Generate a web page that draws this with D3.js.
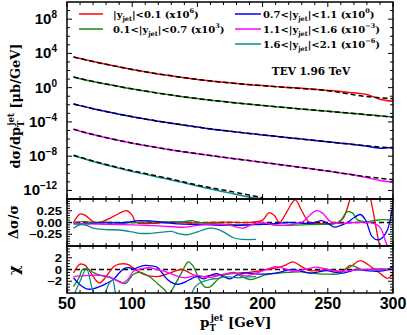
<!DOCTYPE html>
<html lang="en">
<head>
<meta charset="UTF-8"/>
<title>Inclusive jet cross section</title>
<script src="https://d3js.org/d3.v7.min.js"></script>
<style>
body { margin: 0; background: #fff; }
</style>
</head>
<body>
<script>
var w = 407;
var h = 335;

// pT grid (GeV) for the measured spectra, values are log10 of dsigma/dpT (scaled)
var ptGrid = [55,60,70,80,90,100,110,120,130,140,150,160,170,180,190,200,210,220,230,240,250,260,270,280,290,300];
var specRed   = [3.58,3.40,3.05,2.72,2.42,2.12,1.85,1.60,1.38,1.16,0.96,0.78,0.62,0.48,0.35,0.24,0.12,0.02,-0.08,-0.20,-0.32,-0.45,-0.60,-0.80,-1.35,-1.60];
var specGreen = [1.24,1.05,0.72,0.42,0.13,-0.15,-0.40,-0.64,-0.87,-1.08,-1.28,-1.46,-1.63,-1.79,-1.94,-2.08,-2.22,-2.36,-2.50,-2.63,-2.76,-2.89,-3.02,-3.15,-3.28,-3.42];
var specBlue  = [-1.91,-2.10,-2.46,-2.79,-3.10,-3.39,-3.66,-3.92,-4.15,-4.38,-4.60,-4.82,-5.00,-5.18,-5.35,-5.52,-5.68,-5.84,-6.00,-6.16,-6.32,-6.48,-6.64,-6.85,-7.07,-6.95];
var specMag   = [-4.86,-5.08,-5.47,-5.84,-6.18,-6.48,-6.76,-7.02,-7.27,-7.50,-7.72,-7.93,-8.13,-8.33,-8.52,-8.72,-8.92,-9.12,-9.32,-9.52,-9.74,-9.96,-10.20,-10.50,-10.85,-11.05];
var specTeal  = [-7.94,-8.15,-8.62,-9.03,-9.42,-9.78,-10.12,-10.45,-10.77,-11.12,-11.48,-11.82,-12.15,-12.47,-12.80,-12.95];

// theory (dashed), coarser grid
var thGrid = [55,70,90,110,130,150,175,200,225,250,275,300];
var thRed   = [3.58,3.05,2.42,1.85,1.38,0.96,0.55,0.24,-0.05,-0.35,-0.95,-1.30];
var thGreen = [1.24,0.72,0.13,-0.40,-0.87,-1.28,-1.71,-2.08,-2.43,-2.76,-3.09,-3.44];
var thBlue  = [-1.90,-2.46,-3.10,-3.66,-4.15,-4.60,-5.09,-5.52,-5.92,-6.32,-6.72,-7.05];
var thMag   = [-4.86,-5.47,-6.17,-6.75,-7.26,-7.71,-8.23,-8.72,-9.22,-9.74,-10.30,-10.75];
var thTeal  = [-7.89,-8.56,-9.35,-10.02,-10.67,-11.38,-12.10,-12.85];

// (data - theory)/theory, [pT, value]
var ratioRed = [[55,0],[60,0.18],[64,0.15],[70,0.02],[75,0],[85,0.12],[96,0.25],[100,0.15],[103,0],[115,-0.02],[130,0.01],[150,-0.01],[170,0.01],[190,0],[200,0.05],[205,0.21],[209,0.15],[213,0],[218,0.2],[225,0.48],[230,0.25],[236,0],[245,-0.02],[258,0],[262,0.1],[266,0.4],[270,0.8],[276,1.0],[281,0.7],[285,0.2],[289,-0.4],[293,-0.8],[300,-0.9]];
var ratioGreen = [[55,0],[62,0.02],[70,0],[80,0.01],[90,-0.01],[100,0],[120,0.01],[140,0.02],[146,0.04],[150,0.01],[160,-0.02],[175,-0.04],[190,-0.05],[200,-0.03],[215,-0.06],[230,-0.05],[245,-0.04],[255,-0.03],[260,0.05],[265,0.23],[269,0.2],[273,0.05],[278,0.02],[285,0.04],[292,0.06],[300,0.05]];
var ratioBlue = [[55,-0.03],[65,-0.03],[75,-0.01],[85,-0.01],[95,0],[105,0.04],[115,0.03],[125,0],[135,-0.03],[150,-0.04],[160,-0.05],[170,-0.06],[180,-0.06],[190,-0.05],[200,-0.04],[210,-0.02],[220,0],[230,-0.02],[240,0],[245,0.04],[250,-0.02],[255,-0.1],[260,-0.06],[265,0],[270,0.1],[275,0.17],[279,0.05],[284,-0.3],[289,-0.37],[295,-0.2],[300,0.42]];
var ratioMag = [[55,-0.02],[65,-0.03],[80,-0.04],[100,-0.05],[120,-0.07],[140,-0.1],[150,-0.06],[160,-0.04],[175,-0.06],[185,-0.12],[192,-0.04],[200,0],[210,-0.06],[220,-0.05],[230,0],[236,0.15],[241,0.25],[246,0.2],[252,0.02],[260,-0.02],[270,0],[280,0],[285,-0.02],[290,-0.1],[295,-0.45],[300,-0.7]];
var ratioTeal = [[55,-0.12],[60,-0.05],[65,-0.06],[70,-0.12],[80,-0.15],[90,-0.16],[100,-0.2],[106,-0.23],[115,-0.23],[125,-0.2],[130,-0.19],[136,-0.24],[142,-0.26],[150,-0.2],[155,-0.15],[160,-0.12],[165,-0.14],[170,-0.2],[178,-0.33],[185,-0.36],[195,-0.36]];

// chi, [pT, value]
var chiRed = [[55,-0.6],[60,0.9],[64,0.7],[68,-0.5],[72,-1.8],[75,-2.3],[80,-1.2],[86,0.5],[90,0.9],[96,0.9],[100,0.4],[103,-0.1],[110,-0.9],[119,-1.2],[129,-0.6],[138,0],[148,-1],[155,-1.2],[160,-1.0],[170,-0.9],[180,-0.6],[190,-0.5],[196,-0.3],[203,0],[213,0.4],[218,0.8],[223,1.3],[230,0.5],[236,-0.2],[245,-0.1],[250,0],[260,-0.3],[268,0.6],[275,1.5],[281,0.8],[288,-0.3],[296,-1.5],[300,-0.6]];
var chiGreen = [[55,-2.9],[59,-1.5],[62,0],[66,0.1],[70,-0.5],[76,-1.0],[82,-1.3],[88,-1.8],[95,-2.4],[98,-1.6],[101,-0.8],[106,-0.5],[113,-1.2],[120,-2.5],[125,-3.5],[128,-4.2],[133,-2.5],[138,-0.5],[143,1.3],[147,0.5],[151,-1.5],[156,-3.0],[160,-2.9],[166,-1.6],[172,-0.8],[178,-0.5],[184,-1.2],[190,-1.7],[196,-1.4],[202,-0.9],[208,-0.7],[220,-0.5],[230,-0.4],[241,-0.7],[252,-0.8],[259,-0.7],[264,0.2],[267,0.7],[271,0.5],[276,0],[285,0.1],[292,0.1],[300,0]];
var chiBlue = [[55,-1.4],[60,-2.6],[65,-3.3],[70,-3.3],[75,-2.9],[80,-2.4],[86,-1.6],[90,-0.6],[94,0.2],[98,0.3],[101,0.1],[106,0.5],[110,0.7],[115,0.6],[119,0.4],[123,-0.6],[127,-1.7],[132,-2.4],[136,-2.5],[141,-2.1],[146,-1.5],[150,-1.2],[155,-1.6],[160,-1.0],[165,-0.7],[170,-1.2],[175,-1.6],[180,-1.0],[186,-0.6],[192,-0.7],[200,-0.8],[210,-0.6],[218,-0.2],[223,0],[230,-0.3],[236,-0.6],[243,-0.4],[249,-0.2],[256,-0.5],[262,-0.6],[267,-0.3],[272,0],[280,-0.2],[288,-0.3],[295,-0.1],[300,0.5]];
var chiMag = [[55,-1.2],[60,-1.1],[67,-1.0],[75,-1.0],[82,-1.2],[88,-1.9],[93,-2.3],[97,-1.6],[101,-0.3],[107,0.1],[113,0.3],[119,0],[125,-0.3],[132,-0.9],[140,-1.4],[145,-1.2],[150,-1.0],[156,-1.3],[162,-1.3],[168,-0.9],[175,-0.6],[182,-0.8],[188,-1.1],[195,-0.6],[203,0],[210,0.5],[216,0.2],[223,-0.3],[230,-0.1],[236,0.2],[241,0.4],[248,0.1],[255,-0.2],[262,-0.3],[270,-0.1],[280,0],[290,0],[300,0]];
var chiTeal = [[55,-4.5],[60,-2],[65,0.1],[69,-3],[72,-4.6],[78,-4.5],[82,-2.5],[85,-1.8],[88,-4.5],[95,-6],[140,-6],[148,-3],[152,-2.3],[160,-1.7],[166,-1.5],[172,-1.2],[180,-1.4],[188,-1.3],[195,-1.2]];

var colors = ["#ff0000", "#138a13", "#0000ff", "#ff00ff", "#0e8c8c"];
var yLow  = ["", "0.1<", "0.7<", "1.1<", "1.6<"];
var yHigh = ["0.1", "0.7", "1.1", "1.6", "2.1"];
var scalePow = ["6", "3", "0", "\u22123", "\u22126"];

var xTicks = [50, 100, 150, 200, 250, 300];
var topTicks = [8, 4, 0, -4, -8, -12];
var midTicks = [0.25, 0, -0.25];
var midLabels = ["0.25", "0.00", "\u22120.25"];
var botTicks = [2, 0, -2];
var botLabels = ["2", "0", "\u22122"];

var left = 67, right = 393;
var xScale = d3.scaleLinear().domain([50, 300]).range([left, right]);
var yTop = d3.scaleLinear().domain([-13, 10]).range([199, 2]);
var yMid = d3.scaleLinear().domain([-0.5, 0.5]).range([246, 199]);
var yBot = d3.scaleLinear().domain([-4, 4]).range([293, 246]);

var svg = d3.select("body").append("svg")
	.attr("width", w)
	.attr("height", h);

var sans = "'Liberation Sans', Arial, sans-serif";
var serif = "'DejaVu Serif', serif";

function clip(id, ys) {
	svg.append("clipPath").attr("id", id)
		.append("rect")
		.attr("x", left).attr("y", ys.range()[1])
		.attr("width", right - left)
		.attr("height", ys.range()[0] - ys.range()[1]);
}
clip("cTop", yTop);
clip("cMid", yMid);
clip("cBot", yBot);

// spectra
var specs = [specRed, specGreen, specBlue, specMag, specTeal];
var theos = [thRed, thGreen, thBlue, thMag, thTeal];
var gTop = svg.append("g").attr("clip-path", "url(#cTop)");
var lineTop = d3.line()
	.x(function(d) { return xScale(d[0]); })
	.y(function(d) { return yTop(d[1]); })
	.curve(d3.curveMonotoneX);

specs.forEach(function(s, i) {
	gTop.append("path")
		.datum(s.map(function(v, j) { return [ptGrid[j], v]; }))
		.attr("d", lineTop)
		.attr("fill", "none")
		.attr("stroke", colors[i])
		.attr("stroke-width", 1.5);
});
theos.forEach(function(s) {
	gTop.append("path")
		.datum(s.map(function(v, j) { return [thGrid[j], v]; }))
		.attr("d", lineTop)
		.attr("fill", "none")
		.attr("stroke", "#000")
		.attr("stroke-width", 1.5)
		.attr("stroke-dasharray", "5,3");
});

// lower panels
function lowerPanel(data, ys, cid) {
	var g = svg.append("g").attr("clip-path", "url(#" + cid + ")");
	var line = d3.line()
		.x(function(d) { return xScale(d[0]); })
		.y(function(d) { return ys(d[1]); })
		.curve(d3.curveCatmullRom);
	g.append("line")
		.attr("x1", left).attr("x2", right)
		.attr("y1", ys(0)).attr("y2", ys(0))
		.attr("stroke", "#000")
		.attr("stroke-width", 1.5)
		.attr("stroke-dasharray", "5,3");
	data.forEach(function(s, i) {
		g.append("path")
			.datum(s)
			.attr("d", line)
			.attr("fill", "none")
			.attr("stroke", colors[i])
			.attr("stroke-width", 1.3);
	});
}
lowerPanel([ratioRed, ratioGreen, ratioBlue, ratioMag, ratioTeal], yMid, "cMid");
lowerPanel([chiRed, chiGreen, chiBlue, chiMag, chiTeal], yBot, "cBot");

// frames and ticks
function frame(ys, majors, minors) {
	var y0 = ys.range()[1], y1 = ys.range()[0];
	var g = svg.append("g").attr("stroke", "#000");
	g.append("rect")
		.attr("x", left).attr("y", y0)
		.attr("width", right - left).attr("height", y1 - y0)
		.attr("fill", "none").attr("stroke-width", 1.5);
	d3.range(50, 301, 10).forEach(function(v) {
		var len = v % 50 === 0 ? 5 : 3;
		g.append("line").attr("x1", xScale(v)).attr("x2", xScale(v))
			.attr("y1", y1).attr("y2", y1 - len).attr("stroke-width", 1);
		g.append("line").attr("x1", xScale(v)).attr("x2", xScale(v))
			.attr("y1", y0).attr("y2", y0 + len).attr("stroke-width", 1);
	});
	minors.forEach(function(v) {
		var len = majors.indexOf(v) >= 0 ? 5 : 3;
		g.append("line").attr("x1", left).attr("x2", left + len)
			.attr("y1", ys(v)).attr("y2", ys(v)).attr("stroke-width", 1);
		g.append("line").attr("x1", right).attr("x2", right - len)
			.attr("y1", ys(v)).attr("y2", ys(v)).attr("stroke-width", 1);
	});
}
frame(yTop, topTicks, d3.range(-12, 10, 1));
frame(yMid, midTicks, d3.range(-9, 10).map(function(k) { return Math.round(k * 5) / 100; }));
frame(yBot, botTicks, d3.range(-7, 8).map(function(k) { return k * 0.5; }));

// tick labels
topTicks.forEach(function(e) {
	var t = svg.append("text")
		.attr("x", 57).attr("y", yTop(e) + 5)
		.attr("text-anchor", "end")
		.attr("font-family", sans).attr("font-weight", "bold")
		.attr("font-size", "15px");
	t.append("tspan").text("10");
	t.append("tspan").attr("dy", -6).attr("font-size", "10px")
		.text(e < 0 ? "\u2212" + (-e) : e);
});
function smallLabels(ticks, labels, ys) {
	ticks.forEach(function(v, i) {
		svg.append("text")
			.attr("transform", "translate(62," + (ys(v) + 4) + ") scale(1.25,1)")
			.attr("text-anchor", "end")
			.attr("font-family", sans).attr("font-weight", "bold")
			.attr("font-size", "10.5px")
			.text(labels[i]);
	});
}
smallLabels(midTicks, midLabels, yMid);
smallLabels(botTicks, botLabels, yBot);
xTicks.forEach(function(v) {
	svg.append("text")
		.attr("x", xScale(v)).attr("y", 309)
		.attr("text-anchor", "middle")
		.attr("font-family", sans).attr("font-weight", "bold")
		.attr("font-size", "16px")
		.text(v);
});

// axis titles
var yt = svg.append("text")
	.attr("transform", "translate(20,106) rotate(-90)")
	.attr("text-anchor", "middle")
	.attr("font-family", serif).attr("font-weight", "bold").attr("font-size", "13px");
yt.append("tspan").text("d\u03c3/dp");
yt.append("tspan").attr("dy", 4).attr("font-size", "8.5px").text("T");
yt.append("tspan").attr("dx", -5).attr("dy", -10).attr("font-size", "8.5px").text("jet");
yt.append("tspan").attr("dy", 6).text(" [\u03bcb/GeV]");

svg.append("text")
	.attr("transform", "translate(18,222) rotate(-90)")
	.attr("text-anchor", "middle")
	.attr("font-family", serif).attr("font-weight", "bold").attr("font-size", "13px")
	.text("\u0394\u03c3/\u03c3");
svg.append("text")
	.attr("transform", "translate(19,270) rotate(-90)")
	.attr("text-anchor", "middle")
	.attr("font-family", serif).attr("font-weight", "bold").attr("font-size", "15px")
	.text("\u03c7");

var xt = svg.append("text")
	.attr("x", 200).attr("y", 327)
	.attr("font-family", serif).attr("font-weight", "bold").attr("font-size", "13.5px");
xt.append("tspan").text("p");
xt.append("tspan").attr("dy", 4).attr("font-size", "8.5px").text("T");
xt.append("tspan").attr("dx", -5).attr("dy", -10).attr("font-size", "8.5px").text("jet");
xt.append("tspan").attr("dy", 6).text(" [GeV]");

svg.append("text")
	.attr("x", 311).attr("y", 75)
	.attr("text-anchor", "middle")
	.attr("font-family", serif).attr("font-weight", "bold").attr("font-size", "10.5px")
	.text("TEV 1.96 TeV");

// legend
var legPos = [[79, 103, 113, 14], [79, 103, 113, 29], [235, 261, 263, 14], [235, 261, 263, 29], [235, 261, 263, 44]];
legPos.forEach(function(p, i) {
	svg.append("line")
		.attr("x1", p[0]).attr("x2", p[1])
		.attr("y1", p[3]).attr("y2", p[3])
		.attr("stroke", colors[i]).attr("stroke-width", 1.5);
	var t = svg.append("text")
		.attr("x", p[2]).attr("y", p[3] + 4)
		.attr("font-family", serif).attr("font-weight", "bold").attr("font-size", "10px");
	t.append("tspan").text(yLow[i] + "|y");
	t.append("tspan").attr("dy", 3).attr("font-size", "6.5px").text("jet");
	t.append("tspan").attr("dy", -3).text("|<" + yHigh[i] + " (x10");
	t.append("tspan").attr("dy", -5).attr("font-size", "6.5px").text(scalePow[i]);
	t.append("tspan").attr("dy", 5).text(")");
});
</script>
</body>
</html>
